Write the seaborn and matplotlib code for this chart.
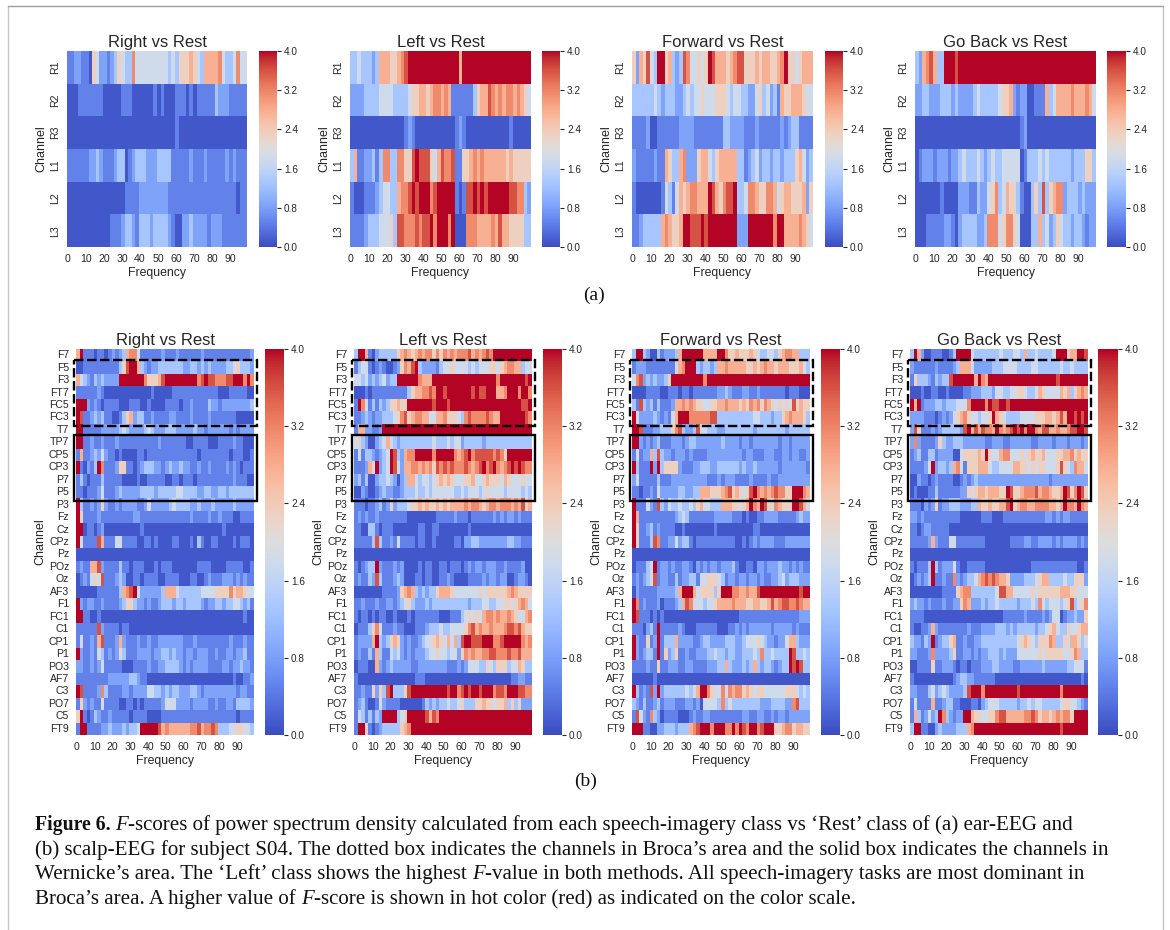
import numpy as np
import matplotlib
matplotlib.use("Agg")
import matplotlib.pyplot as plt
from matplotlib.patches import Rectangle
import seaborn as sns

W, H = 1170, 930

EAR_CHANNELS = ["R1", "R2", "R3", "L1", "L2", "L3"]
SCALP_CHANNELS = ["F7", "F5", "F3", "FT7", "FC5", "FC3", "T7", "TP7", "CP5", "CP3", "P7", "P5", "P3",
                  "Fz", "Cz", "CPz", "Pz", "POz", "Oz", "AF3", "F1", "FC1", "C1", "CP1", "P1", "PO3",
                  "AF7", "C3", "PO7", "C5", "FT9"]
TITLES = ["Right vs Rest", "Left vs Rest", "Forward vs Rest", "Go Back vs Rest"]
CBAR_TICKS = [0.0, 0.8, 1.6, 2.4, 3.2, 4.0]
FREQ_TICKS = list(range(0, 100, 10))

# F-score levels, one digit per 2 Hz bin in the rows below
LEVELS = [0.1, 0.5, 0.85, 1.3, 1.8, 2.3, 2.75, 3.15, 3.6, 4.0]

EAR_RIGHT = [
    "1122110542 2123543374 4444444434 3555654366 6674334744",
    "0001111111 0000011100 0000101000 1110101111 1322211111",
    "0000000000 0000000000 0000000000 1000000000 0000000000",
    "1111112232 1112330123 3322233331 1111211121 1111212111",
    "0000000000 0000001111 2222222211 1111111111 1111111011",
    "0000000000 0011123321 3332333321 0022322221 2221111111",
]
EAR_LEFT = [
    "3343332366 6556789999 9999999999 6999999999 9999999999",
    "2222333344 4433334556 6567767611 1111356687 6767767654",
    "0000000000 0000012100 0000000001 2100000000 0000100000",
    "3611223137 7337755898 8854687781 1556767666 6665655555",
    "1000111234 4336778989 9978999991 0188989899 9999887732",
    "1111233344 4538877787 8897999790 0077766667 6866555533",
]
EAR_FORWARD = [
    "5265843995 6323874454 5986665678 8555656655 6795545666",
    "3333334323 3322343445 4445554344 3322453423 1655666544",
    "1111200111 1112222111 1111133222 2111211111 1212331111",
    "2111112116 5336722256 6435666663 3123423323 3233356423",
    "1000000014 3146567766 6986578893 3477655776 4566555625",
    "1123333367 6556998889 8999999992 2299999997 9966667654",
]
EAR_GOBACK = [
    "3267863399 9899999999 9999999999 9999999999 9999999999",
    "2233222333 2322223433 3334556212 2001116346 6667666764",
    "0000000000 0000000000 0000000001 2000000000 0000000000",
    "0122212221 2234333432 3433444440 1333434333 3332333553",
    "0000000100 0022211322 4573465531 0035383567 7233323222",
    "0001111122 1023333223 7774577540 0033634235 4332332122",
]

SCALP_RIGHT = [
    "6911101101 2123677411 1111211121 1111121111 1111111112",
    "0011111111 1135899632 1223333333 2233232322 2233453332",
    "6432132322 2299999997 5556899999 9999789887 7788999797",
    "1111112100 0000000000 0100000111 1111111111 0001111100",
    "9992121011 1100011100 1000011110 1121111322 1222222223",
    "9811232311 0013562331 1211112211 1121111211 1111100000",
    "9911111222 2234322223 4322233322 2223221222 2221212222",
    "9911211211 1211111111 1112111111 1001111000 1111211000",
    "1611232421 1010000110 1111111111 1111011111 1110111001",
    "9102139711 1255110123 3322123223 2211211211 1121210111",
    "1310111311 1110000100 1111100110 1110111111 1111211100",
    "1101112411 1232222233 3323333344 3333223322 3323333333",
    "9311212521 1212222112 4222223433 3322322232 2222322222",
    "9511112111 1111112211 1111111111 1121111211 2111001111",
    "9901101200 0000000010 0000000000 0000000000 0100000000",
    "9411118611 1441111001 1010000110 0010310011 0000101110",
    "0000000000 0000000000 0000000000 0000000000 0000000000",
    "1211668211 1131101110 0010111000 0000111100 0011111001",
    "0121454811 1232001101 1110011110 0011001211 1222121211",
    "0000001111 1136789422 2222366643 3333344445 5557566544",
    "9212211211 1123553221 2112333233 2333321223 3233443231",
    "9911001000 0000000000 0000000000 0000000000 0000000100",
    "1111118211 1101100000 0000000000 0000000000 0000000000",
    "1411216811 1262111211 2112222222 1112111111 1112111211",
    "9211214312 1243111222 2122332322 1221222112 1122122311",
    "2211212411 1110001111 2112233332 1212222111 1221223221",
    "1111111112 2222233211 0000000000 0000000000 0000100112",
    "9811112731 1112212222 4433232332 2233212222 2222212211",
    "1521211411 1100110101 1111244422 2212222112 1122133332",
    "5910132112 1111101111 0000111111 1111111111 1111101111",
    "1991111223 2223233499 9998676666 6677867787 3334455443",
]
SCALP_LEFT = [
    "3996102333 3356765676 7757576767 7786767879 9999999999",
    "1344101210 0125768932 2221344544 4434344455 4567766344",
    "4434232342 3399999976 6699999999 9999999999 7999999989",
    "0001011111 1111135667 7879989999 9998988999 6679997997",
    "1974131323 5565599999 9989998999 9999999999 9999999889",
    "1123212233 3457856776 6446675554 3787777876 6999999987",
    "1662211299 9999999999 9999999999 9999999999 9999999999",
    "4532002346 4323333333 3343334344 2333332333 3333333333",
    "1413321234 9832677999 9979999976 7897888887 8759999999",
    "1112649234 9842667767 6758787877 7876789789 7678989877",
    "2313002334 3202366434 4345656544 4556445655 5465444544",
    "0021001232 2112333433 4344444433 4344434544 4434444343",
    "1110112312 5233345565 6556565666 6767765677 6777676856",
    "1212112111 1111100000 0001111121 1101111112 1212212111",
    "1100331011 1000000011 0011000000 0010000000 0000000000",
    "1111138311 2141111011 0010000011 0223322222 2223322111",
    "0000000000 0000000000 0000000000 0000000000 0000000000",
    "1012339211 1212000010 1100110111 0121221222 1121111200",
    "1211328311 1232000110 1100112100 0011112122 1220012210",
    "0000000011 1125676323 2335666544 4444454555 5556765555",
    "1121112112 2123453222 3233333333 3323334433 4455456764",
    "1011010110 0100010111 1111000111 3454546776 7667654467",
    "0111357411 1211000111 2333433444 4578676676 6678878655",
    "1222269323 5652121123 4456546463 8998889997 7899999767",
    "1211316311 4342121222 3445443442 5767667788 7778778666",
    "0111006212 3222221122 2222221112 1244433543 5553446533",
    "1000000000 0000000111 0000000000 0000000000 0000112211",
    "1121152538 9333589999 9999998997 8989989997 8879998877",
    "1231001421 1110000001 3232334334 5333556554 5563535222",
    "1431313299 9934599999 8687999999 9999999999 9999999999",
    "1995101233 3335679999 9999999999 9999999999 9999999999",
]
SCALP_FORWARD = [
    "3993200312 2236999999 6666997556 5556543344 3567766333",
    "1222111111 1146799932 3323667666 6655656766 5666555643",
    "4782323223 5999999999 7999999999 9999999999 9999999999",
    "0000111100 1110110111 1111223211 1221121111 1110111000",
    "3183231311 1266767655 4455667666 5657675765 4545485655",
    "9422223212 1469997777 7788333333 3333443332 3356766653",
    "9981112233 3578322384 4333223333 3333233333 3332333333",
    "9921212311 1222123322 2222232222 1221222222 2122122222",
    "1412263832 2122212111 1222222222 2122111222 1122122112",
    "9311192935 5552111223 3322333333 2322322222 2122222221",
    "2411111311 1222222222 2111212221 1112111121 1222222222",
    "1101121422 2223322336 6655567856 5458976767 8775599976",
    "9111421832 4334334356 4433366655 4569769854 7655599864",
    "9611111111 1123431111 1112222211 1010011222 2111112322",
    "9511231211 1100100000 0001000000 0000110000 0000000000",
    "9511138711 2242331011 1111111110 0101212222 1112222222",
    "0000000000 0000000000 0000000000 0000000000 0000000000",
    "0111349122 1211221021 2122122231 0011022122 2322121211",
    "1212348122 1131223314 4555431221 2212212112 2342333222",
    "0211111222 2236999645 5553599977 6676689999 9999999899",
    "9712111201 1123687444 3445666676 6655665568 6788778766",
    "9811101010 0000000000 0000000000 1111111111 1111111222",
    "1110231911 1112100011 1111000112 1212222221 2222212111",
    "9211512913 3362222112 3322223332 2344454322 1224663222",
    "9212331915 2351121122 2334332332 2333437334 3333983343",
    "1111211511 2221122111 1222336322 2323632332 1233989833",
    "0000001000 0000000000 0000000000 0000000000 0000000000",
    "9312182923 3333343469 9754474767 7565455444 4445554343",
    "3213112312 2211122120 4444373433 3333332223 3332278333",
    "1842173201 1110001211 2211111111 1221122112 1221222222",
    "9991100223 3323336789 9979997797 9879978999 5567756655",
]
SCALP_GOBACK = [
    "3962001110 0139999433 3333343334 4363343333 4999566998",
    "2111111211 1123666422 2223334444 3333443333 3343343333",
    "1533321323 3899999969 7699999999 9999999999 9899999999",
    "0001001100 1000011222 3332443344 5543346544 4465635676",
    "9691222332 3334447999 9798899899 9999999999 9999999999",
    "2222111012 1245675443 4459654333 3444455566 5686998989",
    "2851112123 3333289686 8776976789 8979976886 6766788998",
    "2721111253 2233322222 2112221122 2222112222 1222122212",
    "1231133122 2200455556 5954467744 4545655644 4556675655",
    "1111249233 2367415556 6643344446 6554545544 4585437664",
    "0021101211 1100121232 2222222222 2222222221 2222222222",
    "0100011311 1111225456 6566655985 5677786776 5569857985",
    "1110212512 2333222336 5565566895 6776677776 6569776976",
    "2212111111 1111000000 1110001111 1111111122 1212211111",
    "1101221111 1000000000 0000000000 0000000000 0000000000",
    "1111126211 1441111111 1000000011 1122112222 1212222121",
    "0000000000 0000000000 0000000000 0000000000 0000000000",
    "1011139312 2241001111 1000000000 0000111111 1111111001",
    "0121239112 1172123346 7878766522 2233345663 3334335552",
    "0000000001 1115677333 3333488664 4444545555 5566655444",
    "2322121112 1122576222 3233433333 2333437434 4434583457",
    "1111000000 0000000000 0000001111 1121111212 4401223225",
    "1001126211 1111112111 2222333232 3333323345 6433544566",
    "3221329123 3561121122 3333333333 4565435557 6335466534",
    "2211127222 2351122121 2233323222 4444445455 5554457633",
    "0011115112 2210110111 2223322221 1222222322 2222334441",
    "1000000000 0012332211 1111000000 0000000000 0000000010",
    "2211134234 3222238999 7999999999 8999999999 9979999999",
    "1411116112 3311000110 2344433333 2334344333 3345544321",
    "1631242397 3212299655 4455788666 6677875665 6767759999",
    "3991100232 2223336799 9999999999 9999999999 9989999999",
]

CAPTION = [
    [("Figure 6.", "bold", "normal"), (" ", "normal", "normal"), ("F", "normal", "italic"),
     ("-scores of power spectrum density calculated from each speech-imagery class vs \u2018Rest\u2019 class of (a) ear-EEG and", "normal", "normal")],
    [("(b) scalp-EEG for subject S04. The dotted box indicates the channels in Broca\u2019s area and the solid box indicates the channels in", "normal", "normal")],
    [("Wernicke\u2019s area. The \u2018Left\u2019 class shows the highest ", "normal", "normal"), ("F", "normal", "italic"),
     ("-value in both methods. All speech-imagery tasks are most dominant in", "normal", "normal")],
    [("Broca\u2019s area. A higher value of ", "normal", "normal"), ("F", "normal", "italic"),
     ("-score is shown in hot color (red) as indicated on the color scale.", "normal", "normal")],
]


def decode(rows):
    grid = []
    for r in rows:
        r = r.replace(" ", "")
        assert len(r) == 50, r
        grid.append([LEVELS[int(c)] for c in r])
    return np.repeat(np.array(grid), 2, axis=1)


def box(x0, y0, x1, y1):
    return [x0 / W, 1 - y1 / H, (x1 - x0) / W, (y1 - y0) / H]


def draw_panel(fig, rows, channels, title, hm_x, cb_x, y0, y1, vertical):
    ax = fig.add_axes(box(hm_x[0], y0, hm_x[1], y1))
    cax = fig.add_axes(box(cb_x[0], y0, cb_x[1], y1))
    sns.heatmap(decode(rows), ax=ax, cbar_ax=cax, cmap="coolwarm", vmin=0, vmax=4,
                xticklabels=False, yticklabels=channels, cbar_kws={"ticks": CBAR_TICKS})
    ax.set_xticks([f + 0.5 for f in FREQ_TICKS])
    ax.set_xticklabels(FREQ_TICKS, rotation=0, fontsize=7.6, color=".15")
    ax.tick_params(axis="x", length=0, pad=5)
    ax.tick_params(axis="y", length=0, labelsize=7.6, labelcolor=".15",
                   labelrotation=90 if vertical else 0, pad=5)
    if vertical:
        for t in ax.get_yticklabels():
            t.set_va("center")
    width = hm_x[1] - hm_x[0]
    ax.set_xlabel("Frequency", fontsize=8.8, color=".15", labelpad=2)
    ax.set_ylabel("Channel", fontsize=9, color=".15")
    ax.yaxis.set_label_coords(-(20 if vertical else 30) / width, 0.5)
    ax.set_title(title, fontsize=12, color=".15", pad=3)
    cax.set_yticklabels([f"{t:.1f}" for t in CBAR_TICKS])
    cax.tick_params(axis="y", length=3, width=0.8, labelsize=7.2, labelcolor=".15", pad=2, color=".15")
    return ax


def draw_caption(fig):
    renderer = fig.canvas.get_renderer()
    for runs, ypx in zip(CAPTION, [830, 855, 879, 904]):
        x = 35.0
        for txt, weight, style in runs:
            size = 14.2 if weight == "bold" else 15.08
            t = fig.text(x / W, 1 - ypx / H, txt, family="Liberation Serif", fontsize=size,
                         weight=weight, style=style, color="#111111", va="baseline")
            bb = t.get_window_extent(renderer)
            # the lone space run has no measured width
            x += bb.width if txt.strip() else 4.0


sns.set_theme(style="white")
plt.rcParams["font.family"] = ["Liberation Sans", "DejaVu Sans"]
fig = plt.figure(figsize=(W / 100, H / 100), dpi=100, facecolor="white")

ear_data = [EAR_RIGHT, EAR_LEFT, EAR_FORWARD, EAR_GOBACK]
ear_x = [(67, 247), (350, 531), (632, 813), (915, 1096)]
ear_cb = [(259, 277), (542, 560), (825, 843), (1107, 1126)]
for rows, title, hx, cx in zip(ear_data, TITLES, ear_x, ear_cb):
    draw_panel(fig, rows, EAR_CHANNELS, title, hx, cx, 51, 247, True)

scalp_data = [SCALP_RIGHT, SCALP_LEFT, SCALP_FORWARD, SCALP_GOBACK]
scalp_x = [(76, 254), (354, 532), (632, 810), (910, 1088)]
scalp_cb = [(265, 284), (543, 562), (821, 840), (1098, 1118)]
for rows, title, hx, cx in zip(scalp_data, TITLES, scalp_x, scalp_cb):
    ax = draw_panel(fig, rows, SCALP_CHANNELS, title, hx, cx, 349, 735, False)
    ax.add_patch(Rectangle((-1.1, 0.88), 102.8, 5.3, fill=False, ec="black", lw=1.7,
                           ls=(0, (4, 1.5)), clip_on=False, zorder=5))
    ax.add_patch(Rectangle((-1.1, 6.9), 102.8, 5.3, fill=False, ec="black", lw=1.7,
                           clip_on=False, zorder=5))

fig.text(594 / W, 1 - 295 / H, "(a)", family="Liberation Serif", fontsize=14, ha="center", va="center", color="#111111")
fig.text(586 / W, 1 - 781 / H, "(b)", family="Liberation Serif", fontsize=14, ha="center", va="center", color="#111111")

fig.canvas.draw()
draw_caption(fig)

# page frame around the figure
fig.add_artist(plt.Line2D([8 / W, 8 / W], [0, 1 - 6 / H], color="#c4c4c4", lw=1))
fig.add_artist(plt.Line2D([1163 / W, 1163 / W], [0, 1 - 6 / H], color="#c4c4c4", lw=1))
fig.add_artist(plt.Line2D([8 / W, 1163 / W], [1 - 6 / H, 1 - 6 / H], color="#a0a0a0", lw=1))

fig.savefig("out.png", dpi=100)
